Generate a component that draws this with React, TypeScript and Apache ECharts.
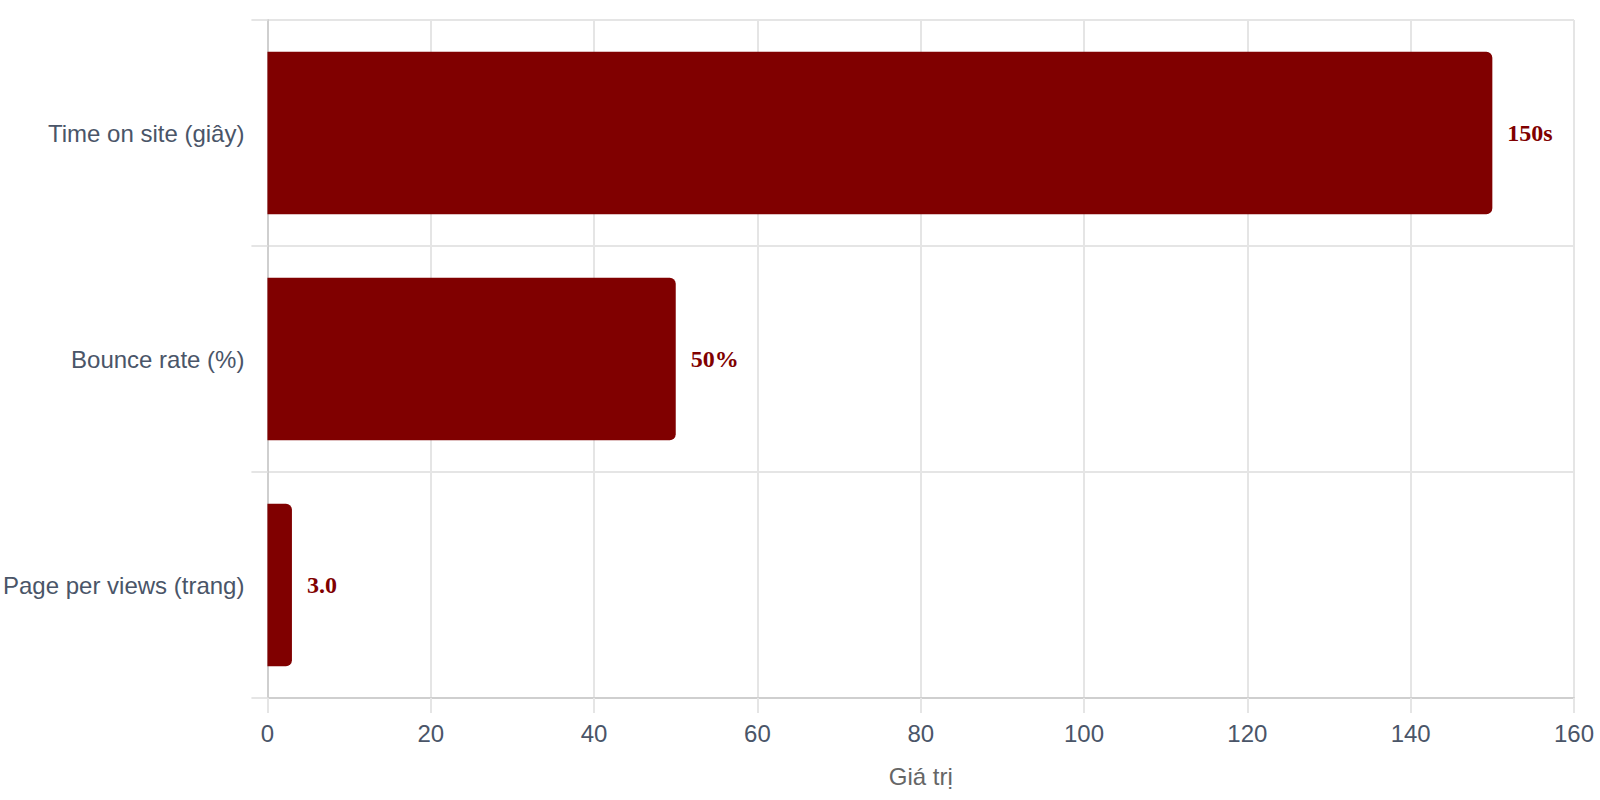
import React, { useEffect, useRef } from "react";
import * as echarts from "echarts";

const categories = ["Time on site (giây)", "Bounce rate (%)", "Page per views (trang)"];
const values = [150, 50, 3];
const valueLabels = ["150s", "50%", "3.0"];
const xTicks = { min: 0, max: 160, interval: 20 };
const axisTitle = "Giá trị";

const GRID = "#e5e5e5";
const AXIS = "#cfcfcf";
const TEXT = "#4a5568";
const BAR = "#800000";

export default function App() {
  const ref = useRef<HTMLDivElement>(null);
  useEffect(() => {
    if (!ref.current) return;
    const chart = echarts.init(ref.current, null, { renderer: "svg" });
    chart.setOption({
      animation: false,
      grid: { left: 267, right: 26, top: 20, bottom: 102, containLabel: false },
      xAxis: {
        type: "value",
        min: xTicks.min,
        max: xTicks.max,
        interval: xTicks.interval,
        name: axisTitle,
        nameLocation: "middle",
        nameGap: 66,
        nameTextStyle: { color: "#666666", fontSize: 24, fontFamily: "'Liberation Sans', Arial, sans-serif" },
        axisLine: { show: true, lineStyle: { color: AXIS, width: 2 } },
        axisTick: { show: true, length: 15, lineStyle: { color: GRID, width: 2 } },
        axisLabel: { color: TEXT, fontSize: 24, margin: 23, fontFamily: "'Liberation Sans', Arial, sans-serif" },
        splitLine: { show: true, lineStyle: { color: GRID, width: 2 } },
      },
      yAxis: {
        type: "category",
        data: categories,
        inverse: true,
        axisLine: { show: true, lineStyle: { color: AXIS, width: 2 } },
        axisTick: { show: true, length: 16, lineStyle: { color: GRID, width: 2 } },
        axisLabel: { color: TEXT, fontSize: 24, margin: 23, fontFamily: "'Liberation Sans', Arial, sans-serif" },
        splitLine: { show: true, lineStyle: { color: GRID, width: 2 } },
      },
      series: [
        {
          type: "bar",
          data: values,
          barWidth: "72%",
          itemStyle: { color: BAR, borderRadius: [0, 6, 6, 0] },
          label: {
            show: true,
            position: "right",
            distance: 15,
            color: BAR,
            fontSize: 24,
            fontWeight: "bold",
            fontFamily: "'Liberation Serif', 'Times New Roman', serif",
            formatter: (p: any) => valueLabels[p.dataIndex],
          },
        },
      ],
    });
    return () => chart.dispose();
  }, []);
  return (
    <div
      ref={ref}
      style={{ position: "fixed", left: 0, top: 0, width: 1600, height: 800, background: "#ffffff" }}
    />
  );
}
